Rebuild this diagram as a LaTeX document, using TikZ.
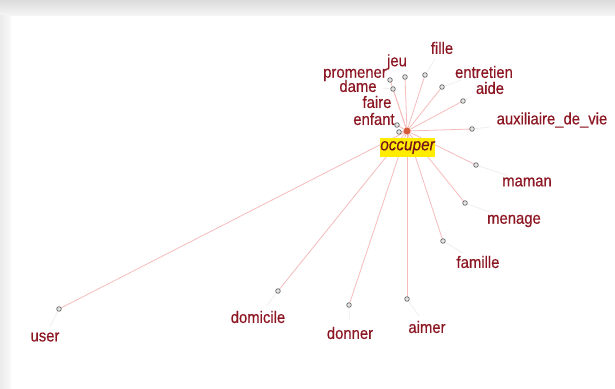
\documentclass[tikz,border=0pt]{standalone}
\usepackage{fontspec}
\setmainfont{Liberation Sans}
\newfontfamily\labfont[FakeStretch=0.9,FakeBold=0.4]{Liberation Sans}
\newfontfamily\occfont[FakeStretch=0.9,FakeBold=0.3]{Liberation Sans}
\begin{document}
\begin{tikzpicture}[x=1pt,y=-1pt,
  lab/.style={text=labred,font=\labfont\fontsize{16.5}{16.5}\selectfont,inner sep=0pt},
  leaf/.style={circle,draw=gray!80!black,fill=gray!20,line width=0.7pt,inner sep=0pt,minimum size=4.6pt},
  edge/.style={draw=pinkline,line width=0.8pt},
  tail/.style={draw=gray!12,line width=0.8pt}]
\definecolor{labred}{RGB}{140,22,34}
\definecolor{pinkline}{RGB}{246,188,188}
\definecolor{hub}{RGB}{214,92,58}
\definecolor{hl}{RGB}{255,236,0}
\useasboundingbox (0,0) rectangle (615,388);
\fill[white] (0,0) rectangle (615,388);
\shade[top color=gray!28,bottom color=gray!8] (0,0) rectangle (615,15);
\shade[left color=gray!16,right color=gray!4] (0,15) rectangle (11,388);
% hub
\coordinate (c) at (407,131);
\foreach \n/\dx/\dy in {
  jeu/405/77, fille/425/75, promener/390/80, dame/393/89, faire/399/132,
  enfant/397/125, entretien/442/87, aide/463/101, aux/472/129, maman/476/165,
  menage/465/203, famille/443/241, aimer/407/299, donner/349/305,
  domicile/278/291, user/59/309}{
  \coordinate (d\n) at (\dx,\dy);
  \path[edge] (c) -- (d\n);
}
\node[fill=hl,inner sep=0pt,minimum width=53pt,minimum height=19pt,text=labred!85!black,font=\occfont\fontsize{17}{17}\selectfont\itshape] (occ) at (407.5,147.5) {occuper};
\node[circle,fill=hub,inner sep=0pt,minimum size=7pt] (hubdot) at (c) {};
\foreach \n/\lx/\ly/\t in {
  jeu/397/62/jeu,
  fille/442/48/fille,
  promener/355/75/promener,
  dame/358/86/dame,
  faire/377/102/faire,
  enfant/374/119/enfant,
  entretien/484/72/entretien,
  aide/490/88/aide,
  aux/552/120/auxiliaire\_de\_vie,
  maman/527/182/maman,
  menage/514/221/menage,
  famille/478/262/famille,
  aimer/427/327/aimer,
  donner/350/333/donner,
  domicile/258/317/domicile,
  user/45/337/user}{
  \node[lab] (l\n) at (\lx,\ly) {\t};
  \path[tail,shorten >=6pt] (d\n) -- (l\n);
  \node[leaf] (k\n) at (d\n) {};
}
\end{tikzpicture}
\end{document}
